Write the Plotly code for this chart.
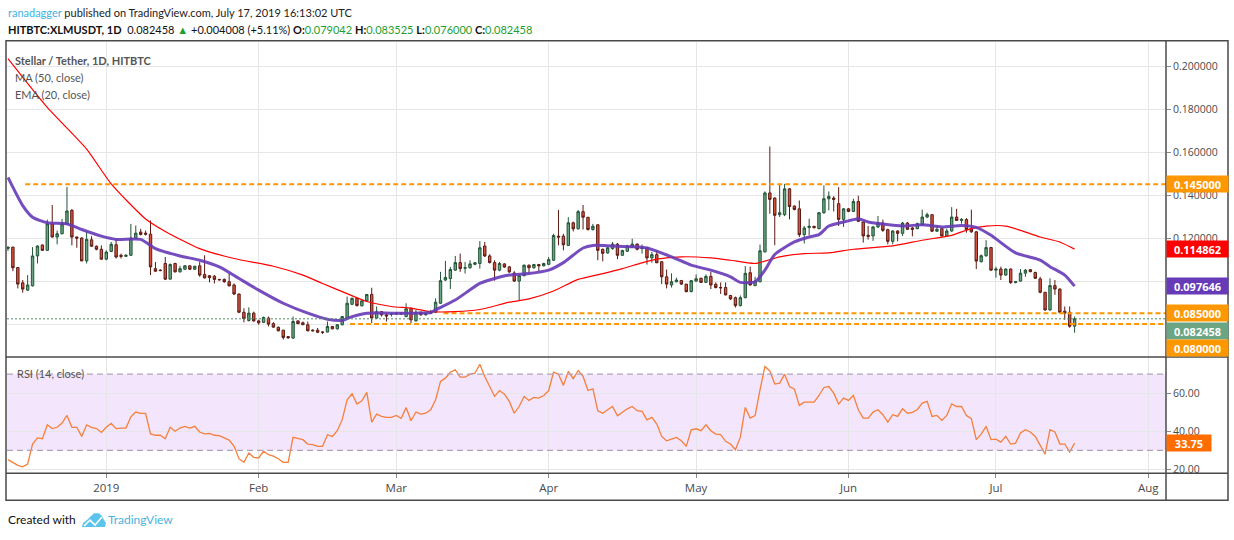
import pandas as pd
import plotly.graph_objects as go

W, H = 1234, 540

# daily candles, 2018-12-12 .. 2019-07-17
first_day = "2018-12-12"
opens = [
    0.1152, 0.1158, 0.1063, 0.0992, 0.0958, 0.0978, 0.1117, 0.1168, 0.1143, 0.1266,
    0.1205, 0.1220, 0.1266, 0.1329, 0.1205, 0.1200, 0.1094, 0.1192, 0.1162, 0.1148,
    0.1102, 0.1138, 0.1169, 0.1120, 0.1115, 0.1120, 0.1200, 0.1228, 0.1223, 0.1218,
    0.1058, 0.1051, 0.1082, 0.1009, 0.1082, 0.1043, 0.1055, 0.1071, 0.1055, 0.1071,
    0.1031, 0.1025, 0.1023, 0.1008, 0.1008, 0.0997, 0.0982, 0.0940, 0.0855, 0.0817,
    0.0851, 0.0815, 0.0808, 0.0828, 0.0802, 0.0785, 0.0772, 0.0742, 0.0735, 0.0815,
    0.0806, 0.0797, 0.0772, 0.0772, 0.0763, 0.0763, 0.0789, 0.0778, 0.0797, 0.0828,
    0.0892, 0.0920, 0.0885, 0.0908, 0.0938, 0.0828, 0.0858, 0.0843, 0.0845, 0.0846,
    0.0851, 0.0835, 0.0874, 0.0815, 0.0855, 0.0843, 0.0849, 0.0855, 0.0897, 0.1005,
    0.1012, 0.1051, 0.1086, 0.1060, 0.1062, 0.1078, 0.1082, 0.1163, 0.1117, 0.1086,
    0.1051, 0.1080, 0.1066, 0.1038, 0.1000, 0.1025, 0.1074, 0.1062, 0.1077, 0.1071,
    0.1078, 0.1097, 0.1209, 0.1209, 0.1166, 0.1271, 0.1243, 0.1323, 0.1297, 0.1240,
    0.1262, 0.1148, 0.1131, 0.1151, 0.1172, 0.1120, 0.1139, 0.1158, 0.1172, 0.1151,
    0.1154, 0.1108, 0.1123, 0.1090, 0.1020, 0.0982, 0.0997, 0.1003, 0.0986, 0.0951,
    0.1000, 0.1013, 0.0994, 0.1022, 0.0985, 0.0970, 0.0970, 0.0933, 0.0923, 0.0886,
    0.0923, 0.1039, 0.0979, 0.0997, 0.1136, 0.1410, 0.1386, 0.1309, 0.1309, 0.1429,
    0.1349, 0.1336, 0.1216, 0.1249, 0.1255, 0.1244, 0.1318, 0.1383, 0.1386, 0.1360,
    0.1287, 0.1336, 0.1324, 0.1370, 0.1275, 0.1213, 0.1210, 0.1252, 0.1270, 0.1239,
    0.1185, 0.1233, 0.1222, 0.1270, 0.1247, 0.1244, 0.1262, 0.1298, 0.1309, 0.1232,
    0.1244, 0.1210, 0.1233, 0.1298, 0.1282, 0.1286, 0.1244, 0.1229, 0.1090, 0.1118,
    0.1156, 0.1051, 0.1056, 0.1028, 0.1056, 0.0993, 0.1000, 0.1037, 0.1053, 0.1040,
    0.1010, 0.0948, 0.0866, 0.0979, 0.0963, 0.0860, 0.0855, 0.079042,
]
highs = [
    0.1160, 0.1160, 0.1065, 0.1005, 0.1028, 0.1158, 0.1166, 0.1170, 0.1286, 0.1354,
    0.1235, 0.1289, 0.1438, 0.1335, 0.1207, 0.1205, 0.1231, 0.1209, 0.1166, 0.1166,
    0.1143, 0.1182, 0.1197, 0.1128, 0.1125, 0.1266, 0.1258, 0.1243, 0.1235, 0.1282,
    0.1089, 0.1055, 0.1112, 0.1082, 0.1085, 0.1071, 0.1073, 0.1073, 0.1071, 0.1089,
    0.1120, 0.1028, 0.1028, 0.1009, 0.1012, 0.1035, 0.0989, 0.0942, 0.0874, 0.0878,
    0.0858, 0.0820, 0.0835, 0.0835, 0.0809, 0.0789, 0.0772, 0.0743, 0.0835, 0.0817,
    0.0812, 0.0812, 0.0775, 0.0782, 0.0766, 0.0812, 0.0791, 0.0800, 0.0837, 0.0928,
    0.0923, 0.0923, 0.0911, 0.0940, 0.0969, 0.0882, 0.0860, 0.0851, 0.0851, 0.0855,
    0.0855, 0.0897, 0.0874, 0.0866, 0.0858, 0.0854, 0.0866, 0.0920, 0.1043, 0.1094,
    0.1066, 0.1117, 0.1128, 0.1089, 0.1097, 0.1089, 0.1186, 0.1182, 0.1125, 0.1097,
    0.1089, 0.1083, 0.1071, 0.1046, 0.1031, 0.1077, 0.1077, 0.1080, 0.1080, 0.1085,
    0.1112, 0.1220, 0.1331, 0.1220, 0.1297, 0.1277, 0.1331, 0.1354, 0.1297, 0.1266,
    0.1262, 0.1151, 0.1158, 0.1182, 0.1177, 0.1146, 0.1169, 0.1197, 0.1175, 0.1170,
    0.1159, 0.1136, 0.1143, 0.1093, 0.1054, 0.1036, 0.1016, 0.1005, 0.0986, 0.1005,
    0.1031, 0.1016, 0.1031, 0.1043, 0.0994, 0.0994, 0.0994, 0.0936, 0.0928, 0.0933,
    0.1070, 0.1067, 0.1020, 0.1170, 0.1417, 0.1626, 0.1390, 0.1452, 0.1452, 0.1432,
    0.1352, 0.1375, 0.1256, 0.1290, 0.1256, 0.1321, 0.1445, 0.1417, 0.1395, 0.1437,
    0.1340, 0.1340, 0.1383, 0.1397, 0.1275, 0.1256, 0.1256, 0.1303, 0.1286, 0.1244,
    0.1236, 0.1236, 0.1275, 0.1275, 0.1252, 0.1272, 0.1332, 0.1318, 0.1309, 0.1256,
    0.1247, 0.1244, 0.1344, 0.1336, 0.1293, 0.1293, 0.1332, 0.1232, 0.1124, 0.1190,
    0.1159, 0.1067, 0.1067, 0.1059, 0.1059, 0.1000, 0.1056, 0.1056, 0.1056, 0.1044,
    0.1020, 0.0948, 0.1013, 0.1005, 0.0966, 0.0882, 0.0882, 0.083525,
]
lows = [
    0.1140, 0.1046, 0.0966, 0.0946, 0.0955, 0.0975, 0.1082, 0.1140, 0.1140, 0.1203,
    0.1171, 0.1218, 0.1262, 0.1166, 0.1155, 0.1092, 0.1082, 0.1160, 0.1143, 0.1100,
    0.1097, 0.1135, 0.1105, 0.1105, 0.1112, 0.1117, 0.1197, 0.1212, 0.1212, 0.1028,
    0.1043, 0.1046, 0.1005, 0.1009, 0.1040, 0.1040, 0.1052, 0.1052, 0.1052, 0.1020,
    0.1012, 0.0994, 0.0989, 0.1003, 0.0992, 0.0975, 0.0935, 0.0851, 0.0808, 0.0812,
    0.0811, 0.0797, 0.0805, 0.0789, 0.0782, 0.0766, 0.0728, 0.0731, 0.0732, 0.0800,
    0.0797, 0.0766, 0.0766, 0.0758, 0.0754, 0.0762, 0.0776, 0.0775, 0.0794, 0.0825,
    0.0889, 0.0882, 0.0882, 0.0905, 0.0805, 0.0825, 0.0835, 0.0812, 0.0835, 0.0843,
    0.0843, 0.0832, 0.0805, 0.0812, 0.0840, 0.0840, 0.0848, 0.0851, 0.0894, 0.1000,
    0.0963, 0.1048, 0.1043, 0.1035, 0.1058, 0.1074, 0.1058, 0.1112, 0.1082, 0.1002,
    0.1046, 0.1062, 0.1038, 0.0997, 0.0912, 0.1023, 0.1040, 0.1058, 0.1046, 0.1068,
    0.1074, 0.1094, 0.1166, 0.1143, 0.1163, 0.1231, 0.1240, 0.1240, 0.1235, 0.1235,
    0.1097, 0.1092, 0.1128, 0.1146, 0.1102, 0.1117, 0.1135, 0.1155, 0.1143, 0.1128,
    0.1077, 0.1085, 0.1085, 0.0986, 0.0966, 0.0970, 0.0994, 0.0982, 0.0948, 0.0948,
    0.0997, 0.0992, 0.0991, 0.0963, 0.0966, 0.0940, 0.0933, 0.0913, 0.0877, 0.0882,
    0.0920, 0.0979, 0.0976, 0.0994, 0.1133, 0.1313, 0.1167, 0.1298, 0.1302, 0.1287,
    0.1329, 0.1205, 0.1175, 0.1213, 0.1244, 0.1241, 0.1313, 0.1329, 0.1324, 0.1256,
    0.1252, 0.1321, 0.1321, 0.1275, 0.1179, 0.1193, 0.1187, 0.1247, 0.1229, 0.1171,
    0.1171, 0.1185, 0.1210, 0.1238, 0.1208, 0.1241, 0.1259, 0.1293, 0.1229, 0.1229,
    0.1207, 0.1205, 0.1229, 0.1281, 0.1267, 0.1225, 0.1225, 0.1056, 0.1087, 0.1113,
    0.1048, 0.1016, 0.1005, 0.1025, 0.0987, 0.0990, 0.0997, 0.1020, 0.1041, 0.1010,
    0.0943, 0.0862, 0.0862, 0.0936, 0.0851, 0.0820, 0.0783, 0.076000,
]
closes = [
    0.1158, 0.1062, 0.0986, 0.0963, 0.0982, 0.1117, 0.1163, 0.1143, 0.1266, 0.1205,
    0.1220, 0.1266, 0.1326, 0.1205, 0.1200, 0.1094, 0.1194, 0.1162, 0.1148, 0.1102,
    0.1135, 0.1171, 0.1112, 0.1115, 0.1120, 0.1200, 0.1223, 0.1217, 0.1218, 0.1066,
    0.1046, 0.1049, 0.1009, 0.1077, 0.1043, 0.1058, 0.1071, 0.1055, 0.1069, 0.1028,
    0.1015, 0.1016, 0.1008, 0.1006, 0.0997, 0.0978, 0.0940, 0.0855, 0.0825, 0.0851,
    0.0815, 0.0806, 0.0831, 0.0800, 0.0786, 0.0769, 0.0738, 0.0737, 0.0812, 0.0802,
    0.0797, 0.0769, 0.0769, 0.0762, 0.0762, 0.0789, 0.0778, 0.0797, 0.0835, 0.0897,
    0.0920, 0.0886, 0.0908, 0.0938, 0.0828, 0.0858, 0.0843, 0.0838, 0.0846, 0.0851,
    0.0848, 0.0871, 0.0820, 0.0855, 0.0843, 0.0851, 0.0858, 0.0902, 0.1002, 0.1017,
    0.1054, 0.1086, 0.1058, 0.1062, 0.1080, 0.1085, 0.1155, 0.1117, 0.1086, 0.1051,
    0.1082, 0.1065, 0.1043, 0.1000, 0.1025, 0.1074, 0.1062, 0.1077, 0.1071, 0.1082,
    0.1100, 0.1212, 0.1205, 0.1169, 0.1271, 0.1243, 0.1323, 0.1297, 0.1240, 0.1255,
    0.1143, 0.1129, 0.1155, 0.1172, 0.1120, 0.1142, 0.1163, 0.1172, 0.1148, 0.1154,
    0.1108, 0.1123, 0.1085, 0.1020, 0.0986, 0.0997, 0.1005, 0.0986, 0.0951, 0.1002,
    0.1011, 0.0994, 0.1022, 0.0982, 0.0970, 0.0969, 0.0936, 0.0917, 0.0886, 0.0923,
    0.1036, 0.0982, 0.1000, 0.1141, 0.1410, 0.1380, 0.1306, 0.1318, 0.1429, 0.1347,
    0.1333, 0.1216, 0.1247, 0.1255, 0.1249, 0.1318, 0.1383, 0.1394, 0.1380, 0.1287,
    0.1336, 0.1324, 0.1370, 0.1278, 0.1210, 0.1208, 0.1252, 0.1270, 0.1236, 0.1185,
    0.1233, 0.1222, 0.1270, 0.1241, 0.1241, 0.1267, 0.1298, 0.1309, 0.1232, 0.1241,
    0.1210, 0.1233, 0.1298, 0.1282, 0.1287, 0.1239, 0.1229, 0.1093, 0.1118, 0.1156,
    0.1051, 0.1056, 0.1028, 0.1056, 0.0993, 0.0997, 0.1037, 0.1051, 0.1044, 0.1013,
    0.0948, 0.0866, 0.0979, 0.0963, 0.0855, 0.0851, 0.0790, 0.082458,
]

# RSI (14) for the same days
rsi = [
    25.1, 23.4, 22.1, 21.3, 22.8, 33.3, 36.5, 36.1, 43.4, 41.4,
    42.1, 44.3, 48.3, 42.1, 42.1, 37.3, 43.4, 42.1, 41.4, 39.4,
    42.1, 44.1, 41.4, 41.7, 41.7, 47.6, 50.1, 49.4, 49.4, 38.6,
    37.9, 37.9, 36.1, 42.1, 40.0, 41.7, 42.6, 41.7, 42.6, 39.6,
    38.6, 38.9, 37.9, 37.7, 36.5, 35.4, 32.1, 25.6, 23.7, 28.6,
    26.3, 26.0, 29.5, 27.7, 26.9, 25.6, 23.7, 23.7, 36.8, 36.1,
    35.6, 33.3, 33.0, 32.1, 32.1, 38.2, 37.3, 40.3, 46.1, 56.5,
    59.7, 54.3, 56.0, 60.4, 44.8, 49.0, 47.8, 47.3, 47.3, 48.3,
    46.8, 52.5, 45.5, 50.1, 49.0, 49.5, 51.3, 56.5, 66.2, 67.9,
    71.0, 72.3, 68.4, 68.4, 70.0, 70.5, 75.2, 68.8, 63.5, 58.3,
    61.4, 59.5, 55.7, 49.5, 53.0, 58.3, 56.2, 57.8, 57.4, 58.8,
    61.3, 71.0, 70.0, 64.1, 71.4, 67.6, 71.9, 68.8, 61.4, 62.3,
    50.8, 49.5, 51.3, 53.0, 48.1, 49.9, 51.8, 53.0, 50.8, 50.4,
    46.0, 47.3, 43.8, 37.3, 35.0, 35.9, 36.8, 35.0, 32.1, 40.8,
    41.3, 40.3, 43.4, 40.3, 38.5, 38.2, 34.7, 33.3, 30.3, 36.9,
    52.5, 46.9, 48.3, 61.8, 74.0, 71.7, 64.8, 65.3, 70.0, 63.5,
    62.1, 53.6, 55.3, 55.3, 55.3, 58.8, 63.0, 63.5, 60.0, 54.3,
    57.4, 56.2, 58.8, 51.3, 46.9, 46.9, 50.1, 51.3, 48.7, 44.8,
    48.7, 47.8, 51.8, 49.5, 49.9, 51.3, 54.8, 55.7, 47.8, 48.3,
    45.7, 48.3, 54.4, 53.0, 53.0, 48.3, 46.6, 35.6, 38.5, 42.6,
    35.6, 35.9, 34.3, 37.3, 33.3, 33.8, 39.1, 40.8, 39.6, 37.3,
    32.9, 28.0, 40.8, 39.6, 33.3, 33.3, 29.1, 33.75,
]

# moving averages (day offsets from 2019-01-01)
ma50_day = [-20, -12, -4, 1, 8, 12, 19, 26, 34, 40, 44, 48, 53, 58, 62, 66, 71, 76, 82,
            86, 91, 96, 101, 105, 109, 112, 117, 123, 127, 132, 137, 142, 147, 152, 160,
            166, 172, 176, 179, 183, 186, 190, 194, 197]
ma50_val = [0.2035, 0.1808, 0.1614, 0.1452, 0.1289, 0.1231, 0.1151, 0.1105, 0.1069, 0.1028,
            0.0989, 0.0951, 0.0905, 0.0882, 0.0874, 0.0858, 0.0858, 0.0868, 0.0902, 0.0917,
            0.0954, 0.1008, 0.1035, 0.1058, 0.1085, 0.1102, 0.1113, 0.1108, 0.1097, 0.1082,
            0.1113, 0.1128, 0.1131, 0.1148, 0.1164, 0.1190, 0.1213, 0.1244, 0.1256, 0.1256,
            0.1236, 0.1205, 0.1182, 0.114862]
ema20_day = [-20, -17, -15, -12, -8, -5, -1, 2, 7, 10, 15, 19, 23, 27, 31, 36, 41, 45, 48,
             50, 53, 58, 63, 66, 67, 71, 76, 79, 82, 86, 90, 93, 97, 99, 103, 107, 110, 115,
             119, 123, 127, 129, 132, 134, 136, 140, 143, 145, 147, 151, 153, 155, 162, 166,
             170, 174, 177, 180, 185, 190, 192, 195, 197]
ema20_val = [0.1482, 0.1351, 0.1297, 0.1271, 0.1266, 0.1240, 0.1209, 0.1194, 0.1194, 0.1151,
             0.1117, 0.1097, 0.1066, 0.1012, 0.0958, 0.0897, 0.0851, 0.0823, 0.0817, 0.0835,
             0.0851, 0.0851, 0.0851, 0.0854, 0.0866, 0.0912, 0.0989, 0.1012, 0.1028, 0.1035,
             0.1051, 0.1086, 0.1154, 0.1166, 0.1163, 0.1160, 0.1154, 0.1113, 0.1074, 0.1051,
             0.1020, 0.0994, 0.0997, 0.1051, 0.1124, 0.1182, 0.1205, 0.1216, 0.1256, 0.1280,
             0.1290, 0.1275, 0.1256, 0.1262, 0.1252, 0.1259, 0.1250, 0.1213, 0.1131, 0.1098,
             0.1067, 0.1028, 0.097646]

# horizontal support / resistance levels and the day each one starts
levels = [0.145, 0.085, 0.080]
level_start_day = [-16.5, 68.6, 49.6]

month_ticks = ["2019-01-01", "2019-02-01", "2019-03-01", "2019-04-01",
               "2019-05-01", "2019-06-01", "2019-07-01", "2019-08-01"]
month_text = ["2019", "Feb", "Mar", "Apr", "May", "Jun", "Jul", "Aug"]
price_ticks = [0.08, 0.10, 0.12, 0.14, 0.16, 0.18, 0.20]
# 0.08 and 0.10 sit under the value tags, so they show no text
price_text = ["", "", "0.120000", "0.140000", "0.160000", "0.180000", "0.200000"]
rsi_ticks = [20, 40, 60]

dates = pd.date_range(first_day, periods=len(closes), freq="D")
jan1 = pd.Timestamp("2019-01-01")


def day(d):
    return jan1 + pd.Timedelta(days=d)


x_start = day(-20.2)
x_end = day(215.6)


def px(x):
    return x / W


def py(y):
    return 1 - y / H


def pix_path(points):
    # svg path in paper units from pixel points
    parts = ["%s%.5f,%.5f" % ("M" if i == 0 else "L", px(x), py(y)) for i, (x, y) in enumerate(points)]
    return " ".join(parts)


UP, DOWN = "#6BA583", "#D75442"
GRID = "#E6E6E6"
AXIS_TXT = "#4A4A4A"
FRAME = "#4A4A4A"
ORANGE = "#FF9800"

fig = go.Figure()

for lv, sd in zip(levels, level_start_day):
    fig.add_trace(go.Scatter(
        x=[day(sd), x_end], y=[lv, lv], mode="lines",
        line=dict(color=ORANGE, width=2, dash="5px,3px"),
        xaxis="x", yaxis="y", hoverinfo="skip", showlegend=False))

fig.add_trace(go.Candlestick(
    x=dates, open=opens, high=highs, low=lows, close=closes,
    increasing=dict(fillcolor=UP, line=dict(color="#225437", width=1)),
    decreasing=dict(fillcolor=DOWN, line=dict(color="#5B1A13", width=1)),
    whiskerwidth=0, xaxis="x", yaxis="y", showlegend=False))

fig.add_trace(go.Scatter(
    x=[day(d) for d in ma50_day], y=ma50_val, mode="lines",
    line=dict(color="#FF0000", width=1.2, shape="spline", smoothing=0.6),
    xaxis="x", yaxis="y", showlegend=False))
fig.add_trace(go.Scatter(
    x=[day(d) for d in ema20_day], y=ema20_val, mode="lines",
    line=dict(color="#673AB7", width=3, shape="spline", smoothing=0.6),
    opacity=0.9, xaxis="x", yaxis="y", showlegend=False))

fig.add_trace(go.Scatter(
    x=dates, y=rsi, mode="lines", line=dict(color="#F57F3B", width=1.3),
    xaxis="x2", yaxis="y2", showlegend=False))

shapes = [
    # RSI band and its dashed bounds
    dict(type="rect", xref="x2 domain", yref="y2", x0=0, x1=1, y0=30, y1=70,
         fillcolor="#F3E6FC", line=dict(width=0), layer="below"),
    dict(type="line", xref="x2 domain", yref="y2", x0=0, x1=1, y0=70, y1=70,
         line=dict(color="#AFA3B8", width=1.2, dash="6px,4px")),
    dict(type="line", xref="x2 domain", yref="y2", x0=0, x1=1, y0=30, y1=30,
         line=dict(color="#AFA3B8", width=1.2, dash="6px,4px")),
    # last price dotted line
    dict(type="line", xref="x domain", yref="y", x0=0, x1=1, y0=closes[-1], y1=closes[-1],
         line=dict(color="#4E8C68", width=1, dash="2px,2px")),
    # frame
    dict(type="rect", xref="paper", yref="paper", x0=px(6), x1=px(1228), y0=py(503), y1=py(41),
         line=dict(color=FRAME, width=1.5)),
    dict(type="line", xref="paper", yref="paper", x0=px(1166), x1=px(1166), y0=py(503), y1=py(41),
         line=dict(color=FRAME, width=1.5)),
    dict(type="line", xref="paper", yref="paper", x0=px(6), x1=px(1228), y0=py(359), y1=py(359),
         line=dict(color=FRAME, width=1.5)),
    dict(type="line", xref="paper", yref="paper", x0=px(6), x1=px(1228), y0=py(476), y1=py(476),
         line=dict(color=FRAME, width=1.5)),
    # small cloud logo in the footer
    dict(type="path", xref="paper", yref="paper",
         path=pix_path([(82, 530), (83, 526), (87, 523), (90, 520), (94, 516), (99, 516),
                        (102, 519), (104, 523), (106, 526), (105, 530)]) + " Z",
         fillcolor="#5CC4EC", line=dict(width=0)),
    dict(type="path", xref="paper", yref="paper",
         path=pix_path([(84, 529), (90, 523), (95, 528), (102, 520)]),
         line=dict(color="white", width=1.5)),
]

GREEN_TXT = "#1E9E2E"
ann = [
    dict(x=px(6), y=py(13),
         text="<span style='color:#3BB3E4'>ranadagger</span> published on TradingView.com, July 17, 2019 16:13:02 UTC",
         font=dict(size=11, color="#222", family="Lato")),
    dict(x=px(6), y=py(30),
         text=("<b>HITBTC:XLMUSDT, 1D</b>  0.082458 <span style='color:%s'>▲</span> +0.004008 (+5.11%%) "
               "<b>O:</b><span style='color:%s'>0.079042</span> <b>H:</b><span style='color:%s'>0.083525</span> "
               "<b>L:</b><span style='color:%s'>0.076000</span> <b>C:</b><span style='color:%s'>0.082458</span>")
         % ((GREEN_TXT,) * 5),
         font=dict(size=11, color="#111", family="Lato")),
    dict(x=px(13), y=py(61), text="<b>Stellar / Tether, 1D, HITBTC</b>",
         font=dict(size=11, color="#555", family="Lato")),
    dict(x=px(13), y=py(78), text="MA (50, close)", font=dict(size=11, color="#555", family="Lato")),
    dict(x=px(13), y=py(95), text="EMA (20, close)", font=dict(size=11, color="#555", family="Lato")),
    dict(x=px(15), y=py(376), text="RSI (14, close)", font=dict(size=11, color="#555", family="Lato")),
    dict(x=px(6), y=py(522), text="Created with", font=dict(size=12, color="#111", family="Lato")),
    dict(x=px(106), y=py(522), text="TradingView", font=dict(size=12, color="#47B3E0", family="Lato")),
]
for a in ann:
    a.update(xref="paper", yref="paper", xanchor="left", yanchor="middle", showarrow=False)

# value labels on the price scale
tags = [
    (0.145, ORANGE, 0),
    (ma50_val[-1], "#FF0000", 0),
    (ema20_val[-1], "#673AB7", 0),
    (0.085, ORANGE, 0),
    (closes[-1], UP, -12),
    (0.080, ORANGE, -24),
]
for v, c, shift in tags:
    ann.append(dict(x=px(1166), xref="paper", y=v, yref="y", yshift=shift,
                    xanchor="left", yanchor="middle", showarrow=False,
                    text="<b>%.6f</b>" % v, bgcolor=c, width=59, height=14, borderpad=1,
                    font=dict(size=11, color="white", family="Open Sans")))
ann.append(dict(x=px(1166), xref="paper", y=rsi[-1], yref="y2",
                xanchor="left", yanchor="middle", showarrow=False,
                text="<b>%.2f</b>" % rsi[-1], bgcolor="#FF6D00", width=42, height=14, borderpad=1,
                font=dict(size=11, color="white", family="Open Sans")))

xdom = [px(7), px(1166)]
tick_font = dict(size=10.5, color=AXIS_TXT, family="Open Sans")
fig.update_layout(
    width=W, height=H, margin=dict(l=0, r=0, t=0, b=0),
    paper_bgcolor="white", plot_bgcolor="white", showlegend=False,
    xaxis=dict(domain=xdom, anchor="y", range=[x_start, x_end], type="date",
               tickvals=month_ticks, showticklabels=False, showgrid=True, gridcolor=GRID,
               zeroline=False, showline=False, rangeslider=dict(visible=False)),
    xaxis2=dict(domain=xdom, anchor="y2", range=[x_start, x_end], type="date", matches="x",
                tickvals=month_ticks, ticktext=month_text, ticks="outside", ticklen=4,
                tickcolor="#888", showgrid=True, gridcolor=GRID, zeroline=False, showline=False,
                tickfont=dict(size=11.5, color=AXIS_TXT, family="Open Sans")),
    yaxis=dict(domain=[py(359), py(42)], anchor="x", side="right", range=[0.0647, 0.2113],
               tickvals=price_ticks, ticktext=price_text,
               ticks="outside", ticklen=4, tickcolor="#888", showgrid=True, gridcolor=GRID,
               zeroline=False, showline=False, tickfont=tick_font),
    yaxis2=dict(domain=[py(476), py(359)], anchor="x2", side="right", range=[17.9, 79],
                tickvals=rsi_ticks, ticktext=["%.2f" % t for t in rsi_ticks],
                ticks="outside", ticklen=4, tickcolor="#888", showgrid=True, gridcolor=GRID,
                zeroline=False, showline=False, tickfont=tick_font),
    shapes=shapes, annotations=ann,
)

fig.write_html("out.html", config={"displayModeBar": False},
               post_script="document.body.style.margin='0';")
